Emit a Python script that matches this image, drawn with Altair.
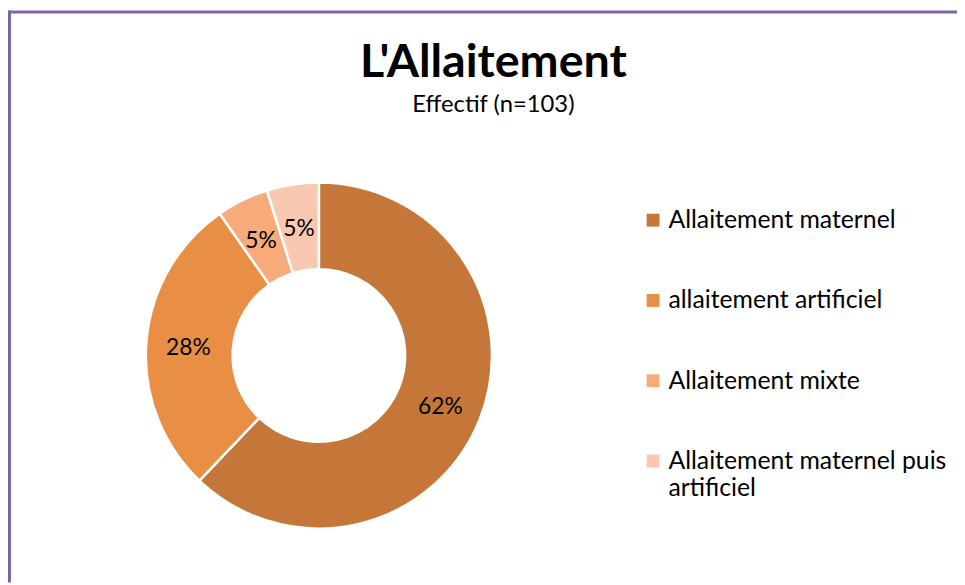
import altair as alt
import pandas as pd

categories = ["Allaitement maternel", "allaitement artificiel", "Allaitement mixte",
              "Allaitement maternel puis artificiel"]
counts = [64, 29, 5, 5]
colors = ["#C47738", "#E98F45", "#F7AA7A", "#F9C8B0"]

df = pd.DataFrame({"cat": categories, "n": counts, "idx": list(range(len(categories)))})

W, H, TOP = 957, 467, 110
CX, CY = 313.5, 238
FONT = "Lato"

base = alt.Chart(df).transform_joinaggregate(total="sum(n)").transform_calculate(
    pct="format(datum.n / datum.total, '.0%')"
)

theta = alt.Theta("n:Q", stack=True)
order = alt.Order("idx:Q", sort="ascending")

arcs = base.mark_arc(innerRadius=87, outerRadius=174.5, stroke="white", strokeWidth=2.5).encode(
    theta=theta,
    order=order,
    x=alt.value(CX),
    y=alt.value(CY),
    color=alt.Color(
        "cat:N",
        scale=alt.Scale(domain=categories, range=colors),
        sort=categories,
        legend=alt.Legend(
            title=None,
            orient="none",
            legendX=638,
            legendY=89,
            direction="vertical",
            symbolType="square",
            symbolSize=169,
            symbolStrokeWidth=0,
            symbolOpacity=1,
            labelFont=FONT,
            labelFontSize=25,
            labelColor="#000000",
            labelOffset=3,
            labelLimit=400,
            rowPadding=55,
            padding=0,
            labelExpr="datum.label == 'Allaitement maternel puis artificiel' ? ['Allaitement maternel puis', 'artificiel'] : datum.label",
        ),
    ),
)

labels = base.mark_text(radius=132, font=FONT, fontSize=23, color="#000000").encode(
    theta=theta,
    order=order,
    x=alt.value(CX),
    y=alt.value(CY + 3),
    text="pct:N",
)

border_df = pd.DataFrame({"k": [0]})
top_border = alt.Chart(border_df).mark_rule(color="#8064A2", strokeWidth=3).encode(
    x=alt.value(0), x2=alt.value(W), y=alt.value(-TOP + 1.5)
)
left_border = alt.Chart(border_df).mark_rule(color="#8064A2", strokeWidth=3).encode(
    x=alt.value(1.5), y=alt.value(-TOP), y2=alt.value(H)
)

chart = alt.layer(top_border, left_border, arcs, labels).properties(
    width=W,
    height=H,
    background="white",
    autosize=alt.AutoSizeParams(type="none"),
    padding={"left": 0, "right": 0, "top": TOP, "bottom": 0},
    title=alt.TitleParams(
        text="L'Allaitement",
        subtitle="Effectif (n=103)",
        anchor="middle",
        dx=11,
        offset=-110,
        font=FONT,
        fontSize=47,
        fontWeight="bold",
        color="#000000",
        subtitleFont=FONT,
        subtitleFontSize=24,
        subtitleColor="#000000",
        subtitlePadding=6,
    ),
).configure_view(stroke=None)

chart.save("out.html", embed_options={"renderer": "svg", "actions": False})
